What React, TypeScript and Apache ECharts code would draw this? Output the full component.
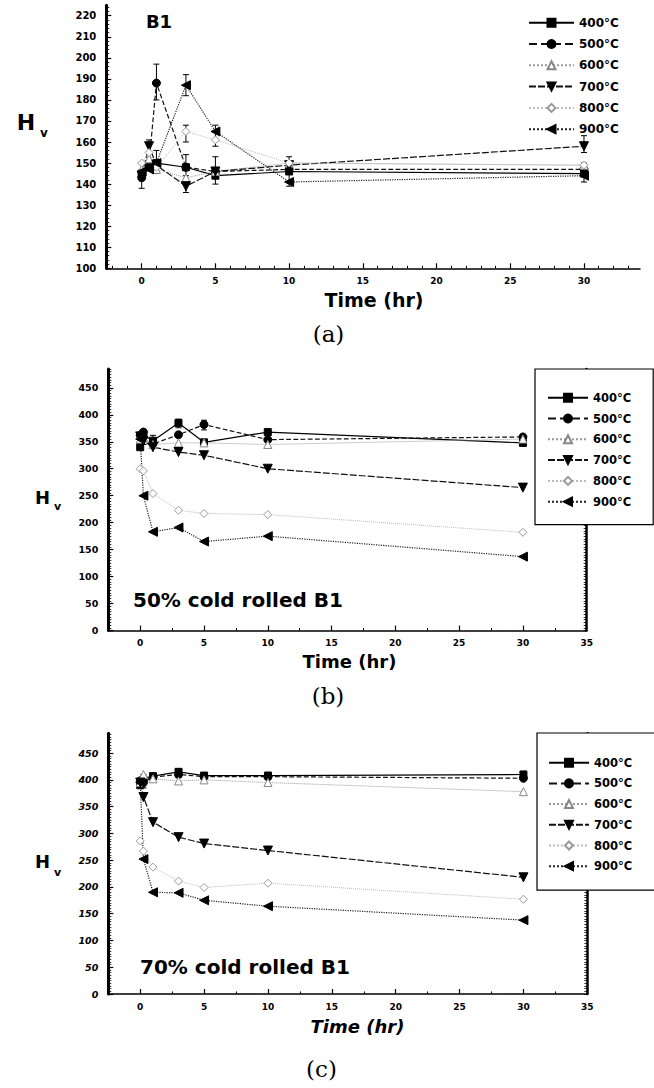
import React, { useEffect, useRef } from "react";
import * as echarts from "echarts";

// ---------- data ----------
const seriesNames = ["400°C", "500°C", "600°C", "700°C", "800°C", "900°C"];

// panel (a): B1
const timeA = [0, 0.5, 1, 3, 5, 10, 30];
const a400 = [145, 148, 150, 148, 144, 146, 145];
const a500 = [143, 150, 188, 148, 146, 147, 147];
const a600 = [147, 152, 147, 143, 146, 150, 149];
const a700 = [144, 158, 149, 139, 146, 149, 158];
const a800 = [150, 155, 148, 165, 161, 150, 149];
const a900 = [146, 147, 150, 187, 165, 141, 144];
const errA = [
  [1, 180, 197], [3, 182, 192], [5, 158, 168], [30, 155, 163], [0.5, 155, 161],
  [5, 140, 153], [3, 144, 154], [3, 136, 141], [1, 145, 156], [0, 138, 150],
  [10, 139, 153], [30, 141, 150], [3, 160, 168],
];

// panel (b): 50% cold rolled B1
const timeB = [0, 0.25, 1, 3, 5, 10, 30];
const b400 = [340, 362, 352, 385, 349, 368, 348];
const b500 = [362, 368, 346, 363, 382, 354, 359];
const b600 = [355, 358, 345, 348, 348, 345, 355];
const b700 = [360, 352, 340, 331, 325, 300, 265];
const b800 = [300, 296, 254, 223, 217, 215, 182];
const b900 = [355, 250, 183, 191, 165, 175, 137];
const errB = [
  [3, 376, 392], [5, 372, 390], [1, 345, 362], [10, 338, 352], [30, 343, 362], [0.25, 345, 372],
];

// panel (c): 70% cold rolled B1
const timeC = [0, 0.25, 1, 3, 5, 10, 30];
const c400 = [390, 400, 407, 415, 408, 408, 410];
const c500 = [398, 395, 405, 410, 406, 406, 403];
const c600 = [395, 410, 402, 398, 400, 395, 378];
const c700 = [395, 368, 321, 293, 281, 268, 218];
const c800 = [286, 267, 237, 211, 199, 207, 177];
const c900 = [395, 252, 190, 189, 175, 164, 138];
const errC = [[3, 405, 421], [10, 400, 414], [30, 400, 416], [0.25, 385, 410]];

// tick labels
const xLabelsA = [0, 5, 10, 15, 20, 25, 30];
const xLabelsBC = [0, 5, 10, 15, 20, 25, 30, 35];
const yLabelsA = [100, 110, 120, 130, 140, 150, 160, 170, 180, 190, 200, 210, 220];
const yLabelsBC = [0, 50, 100, 150, 200, 250, 300, 350, 400, 450];

// ---------- helpers ----------
const range = (a: number, b: number, s: number) => {
  const out: number[] = [];
  for (let v = a; v <= b + 1e-9; v += s) out.push(Math.round(v * 1000) / 1000);
  return out;
};

const FONT = "DejaVu Sans";

const sty = [
  { symbol: "rect", size: 7, rotate: 0, fill: "#000", stroke: "#000", line: { type: "solid", color: "#000", width: 1.2 } },
  { symbol: "circle", size: 8, rotate: 0, fill: "#000", stroke: "#000", line: { type: "dashed", color: "#111", width: 1.2 } },
  { symbol: "triangle", size: 8, rotate: 0, fill: "#fff", stroke: "#888", line: { type: "dotted", color: "#999", width: 1 } },
  { symbol: "triangle", size: 9, rotate: 180, fill: "#000", stroke: "#000", line: { type: [7, 2], color: "#111", width: 1.2 } },
  { symbol: "diamond", size: 8, rotate: 0, fill: "#fff", stroke: "#999", line: { type: "dotted", color: "#bbb", width: 1 } },
  { symbol: "triangle", size: 9, rotate: 90, fill: "#000", stroke: "#000", line: { type: "dotted", color: "#222", width: 1.2 } },
];

function lineSeries(values: number[][], times: number[], xIdx: number, yIdx: number) {
  return seriesNames.map((n, i) => ({
    type: "line",
    name: n,
    xAxisIndex: xIdx,
    yAxisIndex: yIdx,
    data: times.map((t, k) => [t, values[i][k]]),
    symbol: sty[i].symbol,
    symbolSize: sty[i].size,
    symbolRotate: sty[i].rotate,
    itemStyle: { color: sty[i].fill, borderColor: sty[i].stroke, borderWidth: 1 },
    lineStyle: sty[i].line,
    z: 3,
    silent: true,
  }));
}

function errSeries(err: number[][], xIdx: number, yIdx: number) {
  return {
    type: "custom",
    xAxisIndex: xIdx,
    yAxisIndex: yIdx,
    data: err,
    encode: { x: 0, y: [1, 2] },
    silent: true,
    z: 2,
    renderItem: (params: any, api: any) => {
      const x = api.value(0);
      const p1 = api.coord([x, api.value(1)]);
      const p2 = api.coord([x, api.value(2)]);
      const w = 3;
      const st = { stroke: "#000", lineWidth: 1 };
      return {
        type: "group",
        children: [
          { type: "line", shape: { x1: p1[0], y1: p1[1], x2: p2[0], y2: p2[1] }, style: st },
          { type: "line", shape: { x1: p1[0] - w, y1: p1[1], x2: p1[0] + w, y2: p1[1] }, style: st },
          { type: "line", shape: { x1: p2[0] - w, y1: p2[1], x2: p2[0] + w, y2: p2[1] }, style: st },
        ],
      };
    },
  };
}

function xMain(g: number, min: number, max: number, labels: number[], italic = false) {
  return {
    type: "value", gridIndex: g, min, max, position: "bottom",
    axisLine: { show: true, onZero: false, lineStyle: { color: "#000", width: 1.5 } },
    axisTick: { show: true, inside: true, length: 5, customValues: labels, lineStyle: { color: "#000", width: 1.2 } },
    axisLabel: { customValues: labels, fontSize: 9, fontWeight: "bold", fontFamily: FONT, color: "#000", margin: 8, fontStyle: italic ? "italic" : "normal" },
    splitLine: { show: false },
  };
}
function xMinor(g: number, min: number, max: number, ticks: number[]) {
  return {
    type: "value", gridIndex: g, min, max, position: "bottom",
    axisLine: { show: false },
    axisTick: { show: true, inside: true, length: 2.5, customValues: ticks, lineStyle: { color: "#000", width: 1 } },
    axisLabel: { show: false },
    splitLine: { show: false },
  };
}
function yMain(g: number, min: number, max: number, labels: number[], fs: number, lw: number, italic = false) {
  return {
    type: "value", gridIndex: g, min, max, position: "left",
    axisLine: { show: true, onZero: false, lineStyle: { color: "#000", width: lw } },
    axisTick: { show: true, inside: true, length: 5, customValues: labels, lineStyle: { color: "#000", width: 1.2 } },
    axisLabel: { customValues: labels, fontSize: fs, fontWeight: "bold", fontFamily: FONT, color: "#000", margin: 10, fontStyle: italic ? "italic" : "normal" },
    splitLine: { show: false },
  };
}
function yMinor(g: number, min: number, max: number, ticks: number[], pos: string, line: boolean) {
  return {
    type: "value", gridIndex: g, min, max, position: pos,
    axisLine: { show: line, onZero: false, lineStyle: { color: "#000", width: 2.5 } },
    axisTick: { show: true, inside: true, length: 3, customValues: ticks, lineStyle: { color: "#000", width: 0.8 } },
    axisLabel: { show: false },
    splitLine: { show: false },
  };
}

function txt(x: number, y: number, text: string, fontSize: number, opts: any = {}) {
  return {
    type: "text", x, y, silent: true,
    style: {
      text, fontSize, fontWeight: opts.weight || "bold", fontFamily: opts.family || FONT,
      fontStyle: opts.italic ? "italic" : "normal",
      fill: "#000",
      align: opts.align || "center", verticalAlign: "middle",
      textAlign: opts.align || "center", textVerticalAlign: "middle",
    },
  };
}

function legend(left: number, top: number, width: number, gap: number, fs: number, boxed: boolean, pad: number[]) {
  return {
    data: seriesNames, orient: "vertical", left, top,
    itemWidth: width, itemHeight: 10, itemGap: gap,
    padding: pad,
    backgroundColor: boxed ? "#fff" : "transparent",
    borderColor: boxed ? "#000" : "transparent",
    borderWidth: boxed ? 1.2 : 0,
    selectedMode: false,
    textStyle: { fontSize: fs, fontWeight: "bold", fontFamily: FONT, color: "#000", lineHeight: 10 },
    z: 10,
  };
}

export default function App() {
  const ref = useRef<HTMLDivElement>(null);
  useEffect(() => {
    if (!ref.current) return;
    const chart = echarts.init(ref.current, null, { renderer: "svg" });
    const option: any = {
      animation: false,
      backgroundColor: "#fff",
      textStyle: { fontFamily: FONT },
      grid: [
        { left: 106.3, right: 14, top: 5.2, bottom: 819.7 },
        { left: 108.3, right: 67.3, top: 369, bottom: 457.5 },
        { left: 108.3, right: 66.7, top: 733.3, bottom: 94 },
      ],
      xAxis: [
        xMain(0, -2.4, 33.8, xLabelsA),
        xMinor(0, -2.4, 33.8, range(-2, 33, 1)),
        xMain(1, -2.5, 35, xLabelsBC),
        xMinor(1, -2.5, 35, range(-2.5, 35, 2.5)),
        xMain(2, -2.5, 35, xLabelsBC),
        xMinor(2, -2.5, 35, range(-2.5, 35, 2.5)),
      ],
      yAxis: [
        yMain(0, 100, 225, yLabelsA, 10, 3),
        yMinor(0, 100, 225, range(100, 224, 2), "left", false),
        yMain(1, 0, 485, yLabelsBC, 9.5, 3),
        yMinor(1, 0, 485, range(0, 485, 5), "left", false),
        yMinor(1, 0, 485, range(0, 485, 5), "right", true),
        yMain(2, 0, 487, yLabelsBC, 9.5, 3, true),
        yMinor(2, 0, 487, range(0, 485, 5), "left", false),
        yMinor(2, 0, 487, range(0, 485, 5), "right", true),
      ],
      legend: [
        legend(528, 16.7, 45, 9.3, 12, false, [0, 0, 0, 0]),
        legend(535, 369, 40, 8.8, 11.5, true, [22.7, 22, 17, 12]),
        legend(537, 733, 40, 8.7, 11.5, true, [23.7, 23, 18, 11]),
      ],
      series: [
        ...lineSeries([a400, a500, a600, a700, a800, a900], timeA, 0, 0),
        errSeries(errA, 0, 0),
        ...lineSeries([b400, b500, b600, b700, b800, b900], timeB, 2, 2),
        errSeries(errB, 2, 2),
        ...lineSeries([c400, c500, c600, c700, c800, c900], timeC, 4, 5),
        errSeries(errC, 4, 5),
      ],
      graphic: [
        txt(159, 21.7, "B1", 18),
        txt(26, 122, "H", 22),
        txt(44, 133, "v", 12),
        txt(42.5, 497, "H", 18),
        txt(57.5, 506, "v", 11),
        txt(42.5, 861, "H", 18),
        txt(57.5, 872, "v", 11),
        txt(133, 600, "50% cold rolled B1", 20, { align: "left" }),
        txt(140, 966.7, "70% cold rolled B1", 20, { align: "left" }),
        txt(374, 300, "Time (hr)", 19),
        txt(349.5, 661, "Time (hr)", 18),
        txt(357.5, 1026, "Time (hr)", 18, { italic: true }),
        txt(328.5, 334, "(a)", 23, { weight: "normal", family: "DejaVu Serif" }),
        txt(328, 696, "(b)", 23, { weight: "normal", family: "DejaVu Serif" }),
        txt(321.5, 1069, "(c)", 23, { weight: "normal", family: "DejaVu Serif" }),
      ],
    };
    chart.setOption(option);
    return () => chart.dispose();
  }, []);
  return (
    <div
      ref={ref}
      style={{ position: "absolute", left: 0, top: 0, width: 654, height: 1088, background: "#fff" }}
    />
  );
}
